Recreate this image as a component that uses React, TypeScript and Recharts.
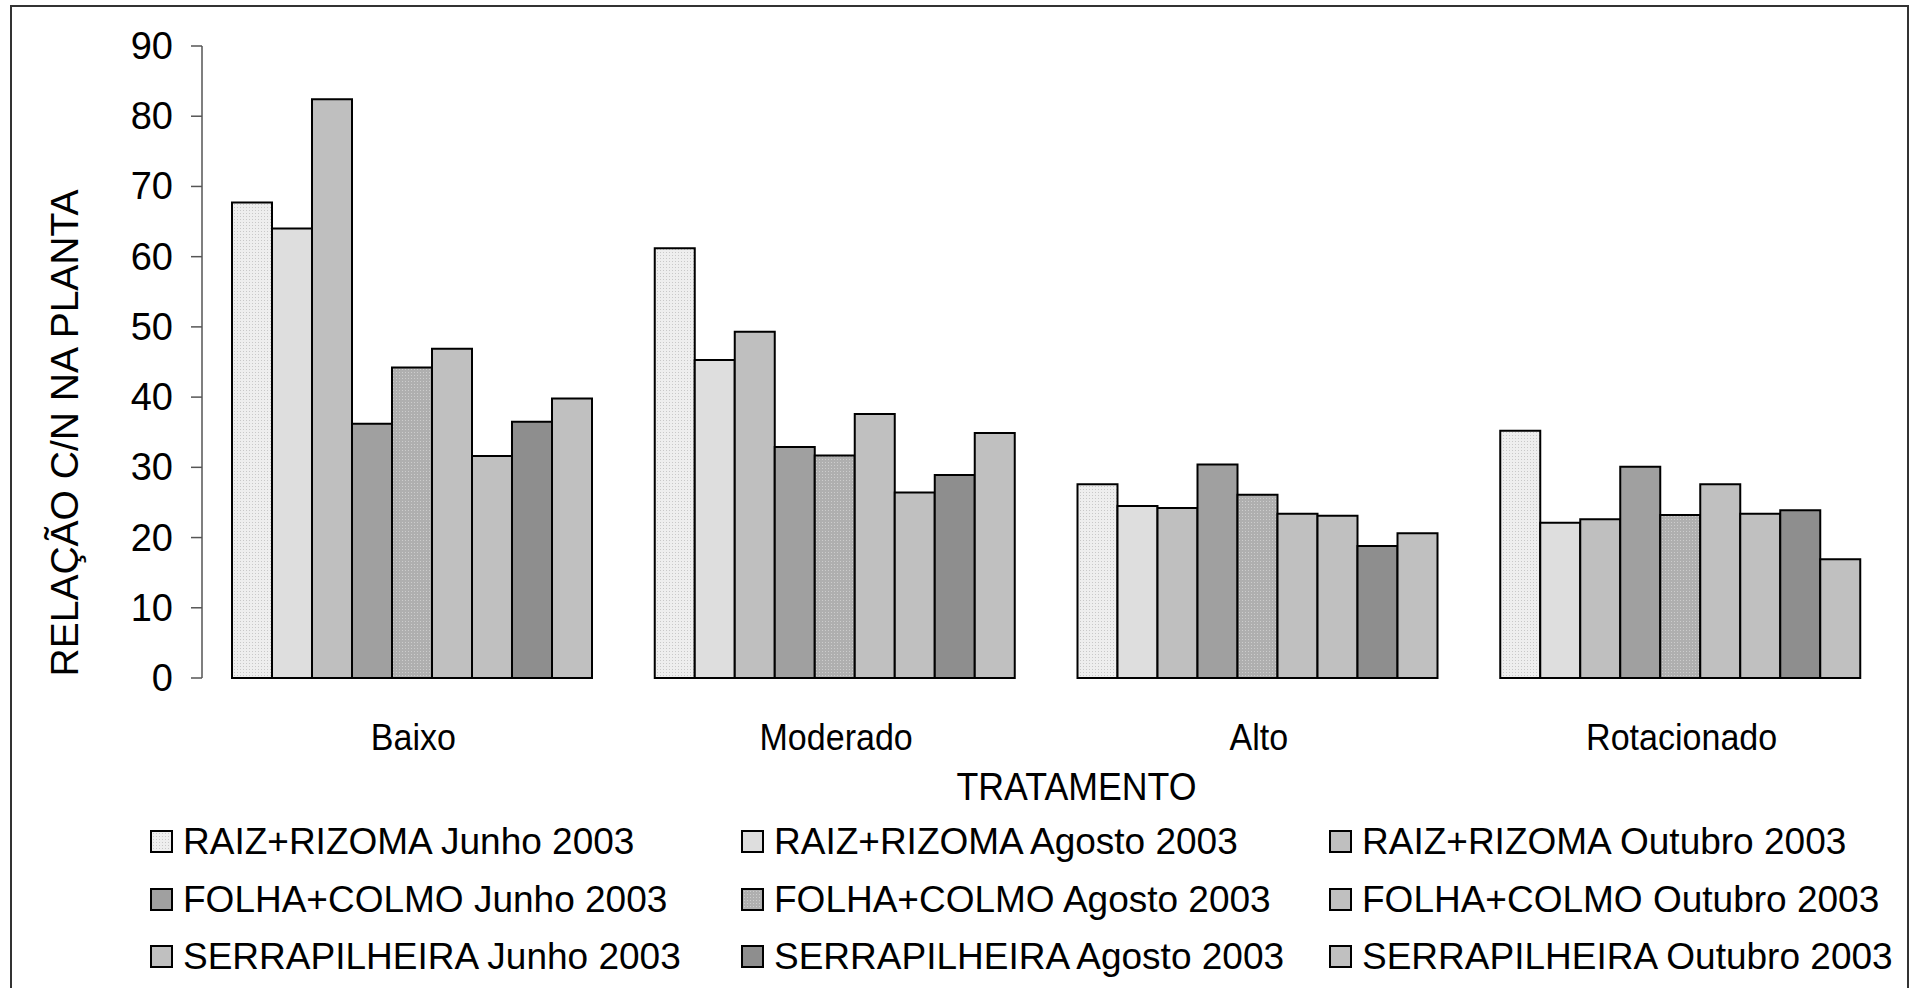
import { BarChart, Bar, XAxis, YAxis, Label } from "recharts";

// C/N ratio per grazing treatment, plant fraction and sampling month
const categories = ["Baixo", "Moderado", "Alto", "Rotacionado"];

const raizJunho = [67.7, 61.2, 27.6, 35.2];
const raizAgosto = [64.0, 45.3, 24.5, 22.1];
const raizOutubro = [82.4, 49.3, 24.2, 22.6];
const folhaJunho = [36.2, 32.9, 30.4, 30.1];
const folhaAgosto = [44.2, 31.7, 26.1, 23.2];
const folhaOutubro = [46.9, 37.6, 23.4, 27.6];
const serraJunho = [31.6, 26.4, 23.1, 23.4];
const serraAgosto = [36.5, 28.9, 18.8, 23.9];
const serraOutubro = [39.8, 34.9, 20.6, 16.9];

const seriesNames = [
  "RAIZ+RIZOMA Junho 2003",
  "RAIZ+RIZOMA Agosto 2003",
  "RAIZ+RIZOMA Outubro 2003",
  "FOLHA+COLMO Junho 2003",
  "FOLHA+COLMO Agosto 2003",
  "FOLHA+COLMO Outubro 2003",
  "SERRAPILHEIRA Junho 2003",
  "SERRAPILHEIRA Agosto 2003",
  "SERRAPILHEIRA Outubro 2003",
];

const seriesValues = [
  raizJunho,
  raizAgosto,
  raizOutubro,
  folhaJunho,
  folhaAgosto,
  folhaOutubro,
  serraJunho,
  serraAgosto,
  serraOutubro,
];

const seriesFills = [
  "url(#dotLight)",
  "#dedede",
  "#bfbfbf",
  "#a0a0a0",
  "url(#dotMid)",
  "#c0c0c0",
  "#c0c0c0",
  "#8e8e8e",
  "#c0c0c0",
];

const yTicks = [0, 10, 20, 30, 40, 50, 60, 70, 80, 90];
const boundaryTicks = [0, 1, 2, 3, 4];

const data = categories.map((name, i) => {
  const row: Record<string, any> = { name };
  seriesValues.forEach((vals, s) => {
    row["s" + s] = vals[i];
  });
  return row;
});

const FONT = "'Liberation Sans', Arial, Helvetica, sans-serif";

const YTick = ({ x, y, payload }: any) => (
  <text x={x} y={y} dy={13} textAnchor="end" fontSize={38} fill="#000" fontFamily={FONT}>
    {payload.value}
  </text>
);

const XTick = ({ x, y, payload }: any) => (
  <g transform={`translate(${x},${y + 72}) scale(0.92,1)`}>
    <text x={0} y={0} textAnchor="middle" fontSize={37} fill="#000" fontFamily={FONT}>
      {payload.value}
    </text>
  </g>
);

const Swatch = ({ fill }: { fill: string }) => (
  <svg width={24} height={24} style={{ display: "block" }}>
    <defs>
      <Patterns />
    </defs>
    <rect x={1} y={1} width={21} height={21} fill={fill} stroke="#000" strokeWidth={2} />
  </svg>
);

function Patterns() {
  return (
    <>
      <pattern id="dotLight" width={3} height={3} patternUnits="userSpaceOnUse">
        <rect width={3} height={3} fill="#eeeeee" />
        <rect width={1} height={1} fill="#c8c8c8" />
      </pattern>
      <pattern id="dotMid" width={3} height={3} patternUnits="userSpaceOnUse">
        <rect width={3} height={3} fill="#afafaf" />
        <rect width={1} height={1} fill="#cdcdcd" />
      </pattern>
    </>
  );
}

const legendCols = [150, 741, 1329];
const legendRows = [842, 900, 957];

export default function App() {
  return (
    <div
      style={{
        position: "absolute",
        left: 0,
        top: 0,
        width: 1917,
        height: 988,
        background: "#fff",
        overflow: "hidden",
        fontFamily: FONT,
      }}
    >
      <div
        style={{
          position: "absolute",
          left: 10,
          top: 5,
          width: 1899,
          height: 1000,
          border: "2px solid #333",
          boxSizing: "border-box",
        }}
      />
      <div style={{ position: "absolute", left: 0, top: 0 }}>
        <BarChart
          width={1917}
          height={988}
          data={data}
          margin={{ top: 46, right: 24, left: 122, bottom: 180 }}
          barCategoryGap={30}
          barGap={0}
        >
          <defs>
            <Patterns />
          </defs>
          <XAxis
            xAxisId="edges"
            type="number"
            domain={[0, 4]}
            ticks={boundaryTicks}
            tick={false}
            tickSize={13}
            height={0}
            axisLine={{ stroke: "#555", strokeWidth: 1.5 }}
            tickLine={{ stroke: "#555", strokeWidth: 1.5 }}
          />
          <XAxis
            xAxisId="cat"
            dataKey="name"
            type="category"
            axisLine={false}
            tickLine={false}
            tickSize={0}
            tickMargin={0}
            height={130}
            tick={<XTick />}
            interval={0}
          >
            <Label
              content={({ viewBox }: any) => {
                const cx = viewBox.x + viewBox.width / 2 + 29;
                return (
                  <g transform={`translate(${cx},800) scale(0.94,1)`}>
                    <text x={0} y={0} textAnchor="middle" fontSize={38} fill="#000" fontFamily={FONT}>
                      TRATAMENTO
                    </text>
                  </g>
                );
              }}
            />
          </XAxis>
          <YAxis
            width={80}
            domain={[0, 90]}
            ticks={yTicks}
            interval={0}
            tickSize={11}
            tickMargin={18}
            tick={<YTick />}
            axisLine={{ stroke: "#555", strokeWidth: 1.5 }}
            tickLine={{ stroke: "#555", strokeWidth: 1.5 }}
          >
            <Label
              content={() => (
                <text
                  transform="translate(78,433) rotate(-90)"
                  textAnchor="middle"
                  fontSize={39}
                  fill="#000"
                  fontFamily={FONT}
                >
                  RELAÇÃO C/N NA PLANTA
                </text>
              )}
            />
          </YAxis>
          {seriesNames.map((n, s) => (
            <Bar
              key={n}
              xAxisId="cat"
              dataKey={"s" + s}
              name={n}
              fill={seriesFills[s]}
              stroke="#000"
              strokeWidth={2}
              isAnimationActive={false}
            />
          ))}
        </BarChart>
      </div>
      {seriesNames.map((n, s) => {
        const col = s % 3;
        const row = Math.floor(s / 3);
        return (
          <div
            key={n}
            style={{
              position: "absolute",
              left: legendCols[col],
              top: legendRows[row] - 22,
              height: 44,
              display: "flex",
              alignItems: "center",
              whiteSpace: "nowrap",
            }}
          >
            <Swatch fill={seriesFills[s]} />
            <span style={{ fontSize: 37, marginLeft: 9, color: "#000", lineHeight: "44px" }}>{n}</span>
          </div>
        );
      })}
    </div>
  );
}
